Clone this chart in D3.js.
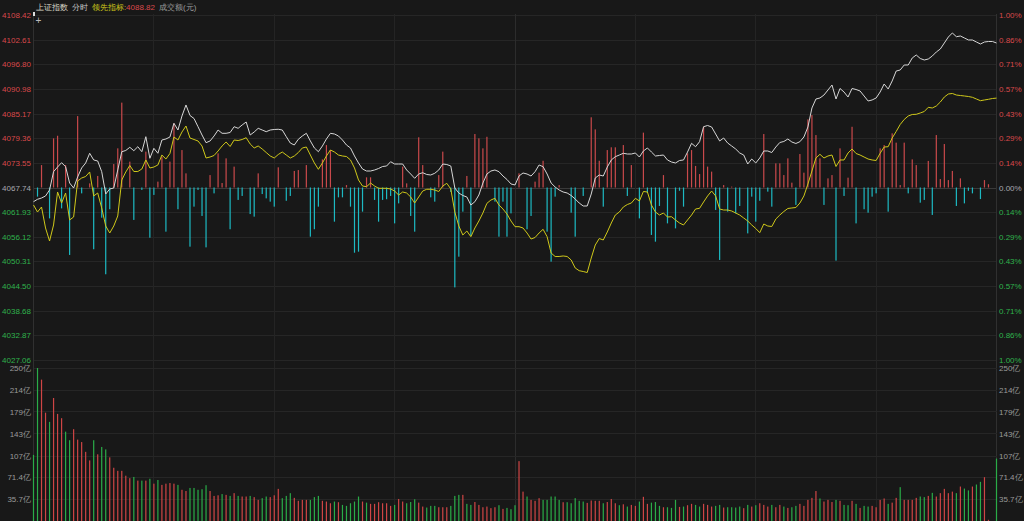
<!DOCTYPE html>
<html><head><meta charset="utf-8">
<script src="https://cdn.jsdelivr.net/npm/d3@7/dist/d3.min.js"></script>
<style>
html,body{margin:0;padding:0;background:#181818;}
svg{display:block;}
text{font-family:"Liberation Sans",Arial,sans-serif;}
</style></head><body>
<svg id="c" width="1024" height="521"></svg>
<script>
// ---------------- data ----------------
const prevClose = 4067.74;
const priceTicks = [4108.42,4102.61,4096.80,4090.98,4085.17,4079.36,4073.55,4067.74,4061.93,4056.12,4050.31,4044.50,4038.68,4032.87,4027.06];
const pctTicks = ["1.00%","0.86%","0.71%","0.57%","0.43%","0.29%","0.14%","0.00%","0.14%","0.29%","0.43%","0.57%","0.71%","0.86%","1.00%"];
const volTicks = [250,214,179,143,107,71.4,35.7];
const volTickLabels = ["250亿","214亿","179亿","143亿","107亿","71.4亿","35.7亿"];
const titleParts = ["上证指数","分时","领先指标:","4088.82","成交额(元)"];

// index price (white line), one value per minute, 241 minutes
const indexPrice = [
4064.39,4064.96,4065.26,4065.74,4067.15,4071.47,4072.57,4073.59,4072.65,4068.80,
4067.62,4070.22,4072.34,4073.52,4075.81,4074.23,4073.99,4071.47,4066.21,4067.39,
4067.62,4071.87,4076.18,4076.47,4077.22,4076.42,4077.36,4076.18,4079.72,4074.63,
4076.98,4075.81,4078.94,4079.18,4079.65,4082.88,4081.30,4084.60,4087.20,4084.72,
4084.01,4082.08,4080.12,4078.31,4078.71,4079.89,4081.30,4080.52,4080.52,4080.71,
4082.08,4081.70,4082.48,4083.19,4080.12,4080.83,4081.70,4081.30,4080.90,4081.30,
4081.42,4081.47,4081.30,4079.72,4078.23,4077.76,4079.11,4079.89,4080.52,4078.71,
4077.06,4076.18,4077.53,4079.18,4080.52,4080.36,4079.89,4078.94,4077.76,4077.06,
4075.17,4073.52,4072.10,4071.63,4071.63,4071.87,4072.22,4072.69,4072.81,4073.82,
4073.28,4073.28,4073.28,4071.87,4070.92,4069.91,4070.92,4071.23,4070.81,4070.69,
4071.09,4071.87,4073.28,4073.16,4072.81,4067.62,4066.44,4065.85,4065.50,4063.61,
4064.39,4065.97,4068.80,4070.92,4071.63,4071.87,4071.47,4070.45,4069.63,4068.57,
4068.33,4070.45,4071.16,4070.92,4070.45,4071.47,4073.05,4072.65,4070.92,4068.80,
4067.86,4067.15,4066.68,4066.44,4065.85,4065.03,4064.08,4063.38,4063.38,4066.21,
4069.98,4070.69,4070.45,4072.57,4074.23,4075.00,4075.40,4075.81,4075.64,4075.64,
4075.88,4074.93,4076.35,4077.06,4076.11,4075.17,4075.29,4075.40,4074.23,4073.75,
4073.52,4074.11,4074.23,4076.11,4078.16,4077.36,4078.54,4082.08,4082.36,4082.01,
4080.36,4078.71,4079.41,4078.23,4077.53,4076.82,4075.88,4075.40,4073.28,4074.46,
4073.52,4074.70,4076.35,4076.35,4075.99,4077.29,4078.35,4078.59,4079.18,4078.47,
4078.12,4078.54,4079.65,4082.01,4086.49,4088.61,4088.85,4089.55,4090.73,4091.91,
4088.61,4091.09,4090.26,4089.08,4091.09,4090.85,4090.50,4089.32,4088.14,4088.38,
4088.85,4090.26,4092.15,4090.97,4092.86,4095.21,4095.45,4096.63,4096.63,4098.28,
4098.99,4098.16,4097.81,4098.04,4098.75,4099.70,4100.40,4101.82,4103.23,4104.18,
4103.30,4103.47,4103.00,4102.53,4102.53,4102.05,4101.58,4102.05,4102.17,4102.17,
4101.82];

// leading indicator (yellow line)
const leadIndicator = [
4063.61,4061.96,4063.14,4058.19,4055.12,4058.90,4066.68,4064.08,4066.44,4060.08,
4060.78,4069.27,4069.98,4070.33,4071.40,4065.74,4066.44,4062.91,4058.66,4057.01,
4058.66,4061.02,4069.51,4071.40,4072.93,4071.51,4071.51,4072.10,4074.23,4072.34,
4072.57,4073.05,4075.40,4074.46,4075.76,4079.65,4078.94,4080.83,4082.24,4079.41,
4079.06,4078.71,4077.53,4074.70,4074.93,4075.29,4076.35,4077.53,4078.47,4077.41,
4078.94,4078.82,4079.06,4079.48,4078.00,4077.06,4077.53,4076.82,4075.99,4075.17,
4074.70,4075.52,4076.11,4075.40,4074.70,4075.17,4075.99,4077.06,4077.29,4075.40,
4073.52,4072.03,4073.52,4075.17,4076.58,4076.11,4075.40,4075.17,4075.05,4074.23,
4072.34,4069.51,4068.09,4067.93,4068.80,4068.09,4067.55,4067.55,4067.55,4067.39,
4066.91,4065.97,4066.68,4066.44,4065.50,4064.08,4065.50,4066.91,4067.32,4067.32,
4067.15,4066.80,4068.09,4068.73,4067.39,4061.96,4058.66,4056.54,4057.48,4056.14,
4058.19,4059.84,4061.73,4064.01,4064.79,4065.19,4063.61,4062.67,4061.49,4059.84,
4058.50,4058.50,4058.19,4057.01,4055.59,4055.95,4057.01,4057.88,4056.14,4052.29,
4051.47,4051.47,4051.59,4051.47,4050.64,4048.76,4048.12,4047.93,4047.69,4051.11,
4054.18,4055.71,4055.36,4057.25,4059.37,4061.25,4061.96,4063.14,4063.73,4064.08,
4065.19,4064.56,4066.80,4066.68,4063.61,4061.96,4061.25,4061.73,4060.78,4060.85,
4060.08,4059.37,4058.90,4060.08,4061.25,4062.67,4062.83,4064.32,4065.74,4066.91,
4065.74,4062.67,4062.43,4062.43,4062.20,4061.73,4061.25,4060.55,4059.84,4058.90,
4058.07,4057.08,4059.13,4058.66,4058.54,4060.31,4061.25,4062.08,4062.79,4062.91,
4063.02,4064.08,4065.74,4068.57,4071.63,4074.70,4075.57,4074.70,4075.17,4075.40,
4072.69,4074.23,4074.23,4075.88,4076.82,4075.76,4075.40,4074.93,4074.46,4074.23,
4074.11,4075.81,4077.29,4077.36,4079.41,4080.95,4082.60,4083.78,4084.60,4084.96,
4085.00,4085.31,4085.66,4086.65,4086.49,4086.96,4087.90,4089.08,4089.79,4089.91,
4089.55,4089.43,4089.32,4089.20,4089.01,4088.61,4088.21,4088.38,4088.54,4088.73,
4088.82];

// buy/sell force bars around the zero line (minute, value)
const forceMinute = [1,2,4,5,6,7,8,9,11,12,14,15,16,17,18,19,20,21,22,24,25,27,28,29,30,31,32,33,34,35,36,37,38,39,40,41,42,43,44,45,46,47,48,49,50,51,52,54,55,56,57,58,59,60,61,63,64,65,66,68,69,70,71,72,73,74,75,76,77,78,79,80,81,82,83,84,85,86,87,88,89,90,91,92,93,94,95,96,97,99,100,101,102,104,105,106,107,108,109,110,111,112,113,115,116,117,118,119,121,123,124,125,126,127,128,129,130,131,134,135,137,139,140,141,142,143,144,145,147,148,149,151,152,153,154,155,156,157,158,160,161,162,163,164,165,166,167,168,169,170,171,172,173,174,175,176,178,179,180,181,182,183,184,185,186,187,188,189,190,191,192,193,194,195,196,197,198,199,200,201,202,203,204,205,207,208,209,210,211,212,213,214,215,216,217,218,219,220,221,222,223,224,225,226,227,228,229,230,231,232,233,234,236,237,238];
const forceValue = [-5.3,13.0,-17.9,28.5,30.0,-12.1,13.0,-39.1,41.4,-3.4,2.4,-35.8,6.7,-17.5,-50.3,-12.6,13.6,22.7,49.2,15.0,-18.8,-1.4,20.8,-29.1,-4.3,3.4,17.9,-25.6,15.0,37.2,-12.6,21.7,8.2,-34.3,-11.1,-1.4,-16.5,-34.7,7.2,-3.4,19.8,2.6,16.9,-24.2,12.1,-7.2,-4.9,-15.4,-16.9,8.2,-3.8,-6.3,-8.2,-11.1,11.7,-7.7,-4.9,9.6,10.1,13.0,-28.5,-24.2,-11.1,16.3,24.6,21.7,-19.8,-5.7,-5.7,1.4,-11.1,-37.8,-37.2,-14.0,5.9,5.9,-7.2,-19.8,-7.2,-6.8,-4.9,-20.8,-9.2,12.1,2.4,-16.5,-25.6,29.1,13.0,-5.7,-8.2,7.2,20.8,-2.6,-57.9,-40.1,-14.0,6.7,-28.1,31.0,28.5,22.7,29.4,-8.2,-28.5,-8.2,-28.5,-15.0,8.2,-24.2,-16.5,3.4,8.6,15.5,-25.6,-43.0,-5.3,1.4,-14.6,-28.5,-4.9,40.7,33.7,15.5,-11.1,21.7,23.3,23.3,24.6,-4.9,13.0,-17.9,31.8,-3.0,-27.5,-31.4,-10.7,7.2,-20.8,-23.7,-1.9,-11.1,19.8,21.7,12.5,7.8,35.2,12.1,9.2,-13.0,-42.0,1.4,-14.0,0.5,-15.0,-10.7,-26.6,-5.3,-19.8,-7.7,31.0,-2.4,-11.1,14.0,14.0,7.2,16.9,2.8,-10.1,19.4,8.6,39.5,42.0,30.4,16.9,-10.1,5.3,7.2,-42.4,22.7,-4.9,5.7,35.2,-20.8,-12.6,-14.6,-5.3,-3.4,22.7,24.6,-14.0,31.4,26.0,1.4,26.0,-3.4,16.3,13.0,-8.8,-7.2,15.4,-15.9,30.4,4.9,25.2,4.3,9.6,-10.7,5.3,-9.2,-1.9,-3.4,-6.7,4.3,1.9];

// turnover per minute (亿元)
const volume = [
108,250,231,177,162,201,175,168,146,132,
150,133,129,113,99,132,109,121,117,104,
87,82,82,74,70,72,66,66,66,69,
61,67,59,61,62,61,59,51,49,54,
54,51,52,58.5,49,41,42,44,42.7,41,
45.5,41,40,40,41,39,34.5,37.3,40,39,
42,52.5,37.3,41,45.5,37.8,33,34.5,34.5,34.5,
39,41,33,31.8,29,31.8,30.7,26.3,24.7,29,
31.8,40,31.8,30,28,28,30.7,29,29,24.7,
26.3,36,31.8,29,31,35.5,30,23.6,22,24.7,
24.7,22.5,22.5,22.5,24.7,41,42.7,42.7,28,26.3,
31,26.3,22.5,23.6,21,22.5,25.8,19.8,21.4,19.3,
25.8,97.8,48,40,34.5,33,37.3,34.5,34.5,40,
40,34.5,30.7,30.7,29,37.3,33,31.8,29.6,33.5,
33,33,29,31,36,29,25.8,27.3,23.6,26.3,
24.7,31.8,39.5,28,30,31,24.7,22.5,22.5,21.4,
34.5,23,23.6,25.8,28,26.3,23.6,28,26.3,23.6,
24.7,26.3,22,22.5,22.5,22,23.6,21,26.3,23.6,
25.8,29,26.3,23.6,26.3,22.5,26.3,23.6,21.4,22.5,
24.7,28,24.7,34.5,37.8,49,36.8,31.8,34.5,31,
34.5,33,26.3,25.8,33,28,21.4,24.7,23.6,24.7,
22.5,34.5,36.8,28,30,37.8,55.3,34.5,34.5,34.5,
37.8,40,39,41,46,40,45.5,52.5,45.5,48,
45.5,56.3,53,50,56.3,59.6,64,71.6,2,0,
102];
// r = up minute, g = down minute
const volumeDir = ("ggrrgrrrgg"+"rrrrrgrggr"+"rrrrrgrgrg"+"rgrrrrgrrg"+"ggggrrrgrg"+
 "rgrrgrrggr"+"rrgggrrrrg"+"ggrrrgrggg"+"ggrgrrrrrr"+"grrgggrrgg"+
 "grrrgggrgg"+"rrrrrrgrgg"+"grrgrrrggg"+"ggrgggggrr"+"rrgrrrgrgr"+
 "rgrrgggrgg"+"grgrrggrrr"+"ggrggggrgr"+"grrrgrrgrg"+"grrrrrgrrr"+
 "grggrgrggr"+"rrrgrrgrrr"+"rggrgrrrrr"+"grggrggrrg"+"g").split("");

// ---------------- drawing ----------------
const W = 1024, H = 521;
const X0 = 33.5, X1 = 996.5;
const RED = "#d9494b", GREEN = "#2fb24c", GREY = "#a8a8b0";
const svg = d3.select("#c");

const x = d3.scaleLinear().domain([0, 240]).range([X0, X1]);
const yP = d3.scaleLinear().domain([4027.06, 4108.42]).range([360, 15]);
const yF = d3.scaleLinear().domain([-100, 100]).range([360, 15]);
const yV = d3.scaleLinear().domain([0, 250]).range([521, 368]);

svg.append("rect").attr("width", W).attr("height", H).attr("fill", "#181818");

// grid
const grid = svg.append("g").attr("shape-rendering", "crispEdges");
grid.selectAll("line.h").data(priceTicks).join("line")
  .attr("x1", X0).attr("x2", X1)
  .attr("y1", d => Math.round(yP(d)) + 0.5).attr("y2", d => Math.round(yP(d)) + 0.5)
  .attr("stroke", d => d === prevClose ? "#3a3a3a" : "#262626");
grid.selectAll("line.v").data([0, 30, 60, 90, 120, 150, 180, 210, 240]).join("line")
  .attr("x1", d => x(d)).attr("x2", d => x(d))
  .attr("y1", 14).attr("y2", H)
  .attr("stroke", d => (d === 0 || d === 240) ? "#303030" : (d === 120 ? "#2c2c2c" : "#242424"));
grid.selectAll("line.vol").data(volTicks).join("line")
  .attr("x1", X0).attr("x2", X1)
  .attr("y1", d => Math.round(yV(d)) + 0.5).attr("y2", d => Math.round(yV(d)) + 0.5)
  .attr("stroke", "#262626");

// force bars
const forceData = forceMinute.map((m, k) => ({m, v: forceValue[k]}));
svg.append("g").selectAll("rect").data(forceData).join("rect")
  .attr("x", d => x(d.m) - 0.6).attr("width", 1.2)
  .attr("y", d => Math.min(yF(d.v), yF(0)))
  .attr("height", d => Math.abs(yF(d.v) - yF(0)))
  .attr("fill", d => d.v >= 0 ? "#c9494b" : "#1db9c2");

// lines
const line = d3.line().x((d, i) => x(i)).y(d => yP(d));
svg.append("path").datum(indexPrice).attr("d", line)
  .attr("fill", "none").attr("stroke", "#d6d6d6").attr("stroke-width", 1);
svg.append("path").datum(leadIndicator).attr("d", line)
  .attr("fill", "none").attr("stroke", "#cfc81a").attr("stroke-width", 1);

// volume bars
svg.append("g").selectAll("rect").data(volume).join("rect")
  .attr("x", (d, i) => x(i) - 0.6).attr("width", 1.2)
  .attr("y", d => yV(d)).attr("height", d => yV(0) - yV(d))
  .attr("fill", (d, i) => volumeDir[i] === "r" ? "#cf4545" : "#2aac48");

// axes
const colorFor = p => p > prevClose ? RED : (p < prevClose ? GREEN : GREY);
const leftAx = svg.append("g").attr("transform", "translate(32,0)")
  .call(d3.axisLeft(yP).tickValues(priceTicks).tickFormat(d3.format(".2f")).tickSize(0).tickPadding(1));
const rightAx = svg.append("g").attr("transform", "translate(998,0)")
  .call(d3.axisRight(yP).tickValues(priceTicks).tickFormat((d, i) => pctTicks[i]).tickSize(0).tickPadding(1));
[leftAx, rightAx].forEach(a => {
  a.select(".domain").remove();
  a.selectAll("text").attr("fill", d => colorFor(d)).style("font-size", "8px")
    .style("font-family", "'Liberation Sans',Arial,sans-serif");
});
const vLeft = svg.append("g").attr("transform", "translate(32,0)")
  .call(d3.axisLeft(yV).tickValues(volTicks).tickFormat((d, i) => volTickLabels[i]).tickSize(0).tickPadding(1));
const vRight = svg.append("g").attr("transform", "translate(998,0)")
  .call(d3.axisRight(yV).tickValues(volTicks).tickFormat((d, i) => volTickLabels[i]).tickSize(0).tickPadding(1));
[vLeft, vRight].forEach(a => {
  a.select(".domain").remove();
  a.selectAll("text").attr("fill", "#9a9a9a").style("font-size", "8px")
    .style("font-family", "'Liberation Sans',Arial,sans-serif");
});

// title: laid out piece by piece using measured widths
const title = svg.append("g")
  .style("font-family", "'Liberation Sans','Noto Sans CJK SC',sans-serif");
const tcol = ["#d8d8c8", "#c8c8c8", "#cfc81a", RED, "#9a9a9a"];
const tsize = [8, 8, 7.5, 8, 8];
const tgap = [0, 4, 4, 0, 4];
let tx = 36;
titleParts.forEach((t, i) => {
  tx += tgap[i];
  const el = title.append("text").attr("x", tx).attr("y", 10)
    .attr("fill", tcol[i]).style("font-size", tsize[i] + "px").text(t);
  tx += el.node().getComputedTextLength();
});
svg.append("rect").attr("x", 33).attr("y", 12).attr("width", 2).attr("height", 4).attr("fill", "#dddddd");
svg.append("text").attr("x", 35.5).attr("y", 24).attr("fill", "#bbbbbb").style("font-size", "10px").text("+");
</script>
</body></html>
